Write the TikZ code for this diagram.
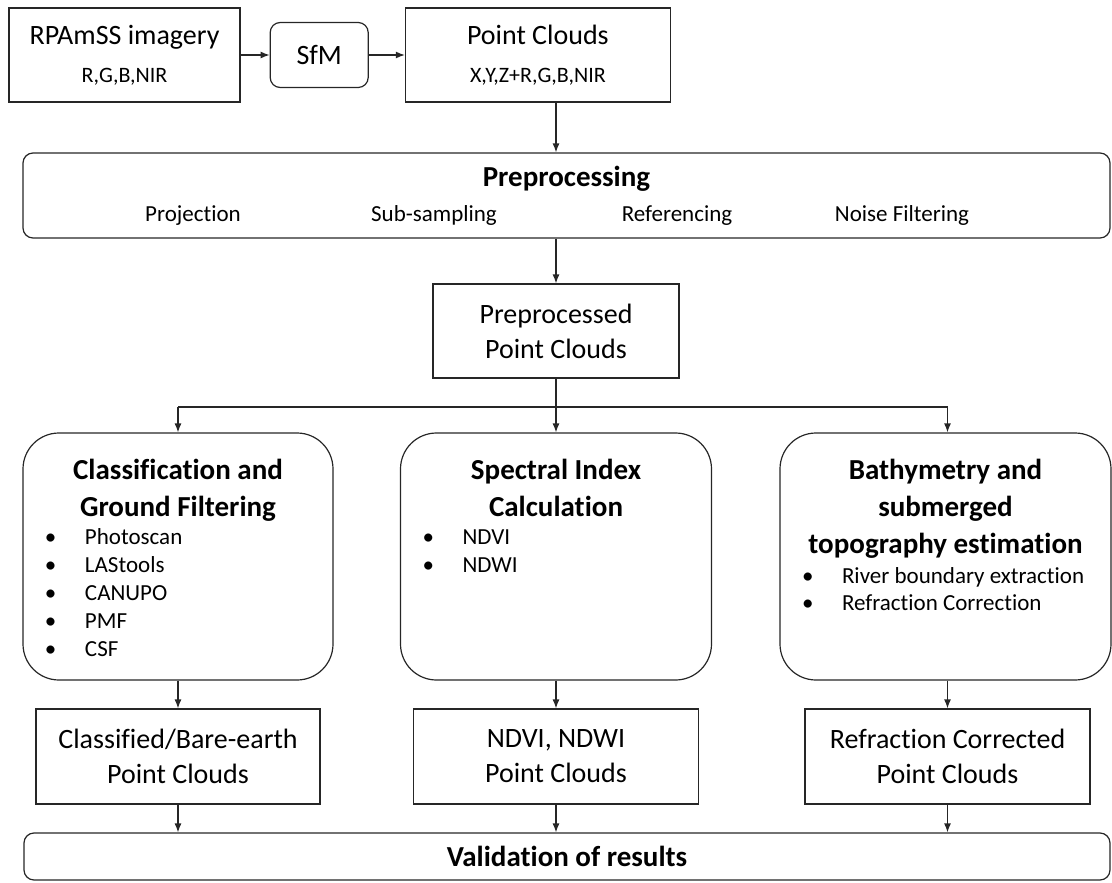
\documentclass[tikz,border=0pt]{standalone}
\usepackage{fontspec}
\setmainfont[Ligatures=NoCommon]{Carlito}
\usetikzlibrary{arrows.meta,positioning}
% font sizes used in the boxes
\newcommand{\pcsub}{\fontsize{22}{26}\selectfont}
\newcommand{\pchead}{\bfseries\fontsize{29}{37}\selectfont}
\newcommand{\pcitem}{\fontsize{23}{28}\selectfont}
\newcommand{\listentry}[1]{\hspace*{22pt}\makebox[40pt][l]{•}#1}
\tikzset{
    %Define standard arrow tip
    >={Latex[length=9pt,width=7pt]},
    %Define style for plain boxes
    databox/.style={
             rectangle,
             draw=black!85, line width=1.2pt,
             align=center, inner sep=0pt,
             font=\fontsize{28}{35}\selectfont},
    %Define style for rounded boxes
    stepbox/.style={
             rectangle, rounded corners=10pt,
             draw=black!85, line width=1.2pt,
             align=center, inner sep=0pt},
    methodbox/.style={
             rectangle, rounded corners=36pt,
             draw=black!85, line width=1.2pt,
             inner sep=0pt,
             minimum height=247pt},
    % Define arrow style
    flowarrow/.style={
            ->,
            draw=black!85,
            line width=1.2pt}
}

\begin{document}
\begin{tikzpicture}[x=1pt, y=-1pt]
 \useasboundingbox (0,0) rectangle (1112,883);
 \node[databox, minimum width=231pt, minimum height=94pt] (rpa) at (124.5,55) {RPAmSS imagery\\[3pt]{\pcsub R,G,B,NIR}};
 \node[stepbox, font=\fontsize{28}{34}\selectfont, minimum width=98pt, minimum height=65pt, right=29pt of rpa] (sfm) {SfM};
 \node[databox, minimum width=265pt, minimum height=94pt, right=36pt of sfm] (pc) {Point Clouds\\[3pt]{\pcsub X,Y,Z+R,G,B,NIR}};
 \node[stepbox, minimum width=1087pt, minimum height=85pt] (pre) at (566.5,195.5)
   {{\pchead Preprocessing}\\[13pt]
    {\pcitem\makebox[1087pt][l]{\hspace*{170pt}\makebox[0pt]{Projection}\hspace*{241pt}\makebox[0pt]{Sub-sampling}\hspace*{243pt}\makebox[0pt]{Referencing}\hspace*{225pt}\makebox[0pt]{Noise Filtering}}}};
 \node[databox, minimum width=246pt, minimum height=94pt] (ppc) at (556,331) {Preprocessed\\Point Clouds};
 \coordinate (split) at (556,407);
 % the three branches
 \node[methodbox, minimum width=310pt] (cls) at (178,556.5)
   {\parbox[c][247pt][t]{310pt}{\centering\vspace*{26pt}
    {\pchead Classification and\\Ground Filtering\par}
    \raggedright\pcitem
    \listentry{Photoscan}\\\listentry{LAStools}\\\listentry{CANUPO}\\\listentry{PMF}\\\listentry{CSF}}};
 \node[methodbox, minimum width=311pt] (spi) at (556,556.5)
   {\parbox[c][247pt][t]{311pt}{\centering\vspace*{26pt}
    {\pchead Spectral Index\\Calculation\par}
    \raggedright\pcitem
    \listentry{NDVI}\\\listentry{NDWI}}};
 \node[methodbox, minimum width=331pt] (bat) at (945.5,556.5)
   {\parbox[c][247pt][t]{331pt}{\centering\vspace*{26pt}
    {\pchead Bathymetry and\\submerged\\topography estimation\par}
    \raggedright\fontsize{23}{27}\selectfont
    \vspace*{3pt}\listentry{River boundary extraction}\\\listentry{Refraction Correction}}};
 \node[databox, minimum width=284pt, minimum height=95pt] (out1) at (178,756.5) {Classified/Bare-earth\\Point Clouds};
 \node[databox, minimum width=285pt, minimum height=95pt] (out2) at (556,756.5) {NDVI, NDWI\\Point Clouds};
 \node[databox, minimum width=285pt, minimum height=95pt] (out3) at (947.5,756.5) {Refraction Corrected\\Point Clouds};
 \node[stepbox, minimum width=1086pt, minimum height=47pt] (val) at (567,856.5) {{\pchead Validation of results}};
 % connectors
 \draw[flowarrow] (rpa) -- (sfm);
 \draw[flowarrow] (sfm) -- (pc);
 \draw[flowarrow] (ppc.north |- pc.south) -- (ppc.north |- pre.north);
 \draw[flowarrow] (ppc.north |- pre.south) -- (ppc.north);
 \draw[line width=1.2pt, draw=black!85] (ppc.south) -- (split);
 \draw[line width=1.2pt, draw=black!85] (cls.north |- split) -- (out3.north |- split);
 \draw[flowarrow] (cls.north |- split) -- (cls.north);
 \draw[flowarrow] (split) -- (spi.north);
 \draw[flowarrow] (out3.north |- split) -- (out3.north |- bat.north);
 \draw[flowarrow] (cls.south) -- (out1.north);
 \draw[flowarrow] (spi.south) -- (out2.north);
 \draw[flowarrow] (out3.north |- bat.south) -- (out3.north);
 \draw[flowarrow] (out1.south) -- (out1.south |- val.north);
 \draw[flowarrow] (out2.south) -- (out2.south |- val.north);
 \draw[flowarrow] (out3.south) -- (out3.south |- val.north);
\end{tikzpicture}
\end{document}
